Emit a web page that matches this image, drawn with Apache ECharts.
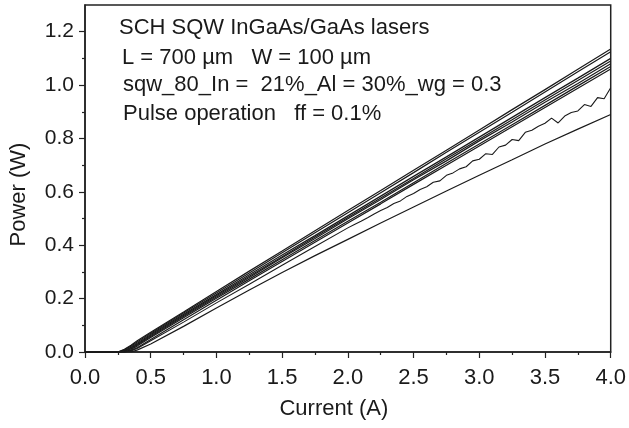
<!DOCTYPE html>
<html><head><meta charset="utf-8">
<script src="https://cdn.jsdelivr.net/npm/echarts@6/dist/echarts.min.js"></script>
<style>html,body{margin:0;padding:0;background:#fff}#c{width:629px;height:428px}</style>
</head><body><div id="c"></div>
<script>
// Current (A) sample points for the smooth curves
const current = [0, 0.2, 0.25, 0.3, 0.35, 0.4, 0.5, 0.75, 1.0, 1.25, 1.5, 1.75, 2.0, 2.25, 2.5, 2.75, 3.0, 3.25, 3.5, 3.75, 4.0];
// Power (W) for each laser
const laser1 = [0, 0, 0, 0.010, 0.025, 0.043, 0.074, 0.150, 0.227, 0.303, 0.378, 0.454, 0.530, 0.605, 0.681, 0.756, 0.832, 0.908, 0.983, 1.059, 1.135];
const laser2 = [0, 0, 0, 0.008, 0.022, 0.038, 0.070, 0.146, 0.221, 0.296, 0.372, 0.447, 0.522, 0.597, 0.672, 0.748, 0.823, 0.898, 0.974, 1.050, 1.125];
const laser3 = [0, 0, 0, 0.005, 0.018, 0.034, 0.066, 0.141, 0.215, 0.289, 0.363, 0.436, 0.510, 0.584, 0.658, 0.731, 0.805, 0.879, 0.953, 1.026, 1.100];
const laser4 = [0, 0, 0, 0.003, 0.015, 0.030, 0.062, 0.137, 0.211, 0.284, 0.357, 0.431, 0.504, 0.577, 0.650, 0.724, 0.797, 0.870, 0.944, 1.017, 1.090];
const laser5 = [0, 0, 0, 0.002, 0.012, 0.027, 0.058, 0.133, 0.206, 0.279, 0.353, 0.425, 0.499, 0.571, 0.645, 0.716, 0.791, 0.862, 0.936, 1.006, 1.080];
const laser6 = [0, 0, 0, 0, 0.009, 0.023, 0.054, 0.128, 0.201, 0.273, 0.346, 0.418, 0.490, 0.561, 0.634, 0.707, 0.779, 0.851, 0.924, 0.997, 1.070];
const laser7 = [0, 0, 0, 0, 0.006, 0.017, 0.047, 0.121, 0.194, 0.267, 0.339, 0.411, 0.483, 0.555, 0.628, 0.700, 0.772, 0.844, 0.916, 0.988, 1.060];
const laser9 = [0, 0, 0, 0, 0, 0.008, 0.030, 0.096, 0.165, 0.232, 0.298, 0.361, 0.422, 0.483, 0.543, 0.603, 0.662, 0.720, 0.779, 0.835, 0.890];
// Noisy curve (laser 8)
const currentNoisy = [0, 0.3, 0.35, 0.4, 0.5, 0.75, 1.0, 1.25, 1.5, 1.75,
  2.0, 2.05, 2.1, 2.15, 2.2, 2.25, 2.3, 2.35, 2.4, 2.45, 2.5, 2.55, 2.6, 2.65, 2.7, 2.75, 2.8, 2.85, 2.9, 2.95,
  3.0, 3.05, 3.1, 3.15, 3.2, 3.25, 3.3, 3.35, 3.4, 3.45, 3.5, 3.55, 3.6, 3.65, 3.7, 3.75, 3.8, 3.85, 3.9, 3.95, 4.0];
const laser8 = [0, 0, 0.004, 0.014, 0.042, 0.112, 0.184, 0.254, 0.325, 0.395,
  0.465, 0.478, 0.490, 0.503, 0.517, 0.530, 0.541, 0.556, 0.566, 0.583, 0.594, 0.609, 0.619, 0.636, 0.641, 0.662, 0.671, 0.686, 0.694, 0.716,
  0.722, 0.743, 0.740, 0.768, 0.775, 0.796, 0.792, 0.823, 0.831, 0.846, 0.857, 0.876, 0.858, 0.884, 0.897, 0.903, 0.927, 0.920, 0.953, 0.949, 0.990];

const powerTicks = [0, 0.2, 0.4, 0.6, 0.8, 1.0, 1.2];
const powerMinorTicks = [0.1, 0.3, 0.5, 0.7, 0.9, 1.1];
const currentTicks = [0, 0.5, 1.0, 1.5, 2.0, 2.5, 3.0, 3.5, 4.0];

const annotation = [
  'SCH SQW InGaAs/GaAs lasers',
  'L = 700 µm   W = 100 µm',
  'sqw_80_In =  21%_Al = 30%_wg = 0.3',
  'Pulse operation   ff = 0.1%'
];

const FONT = 'Liberation Sans, Arial, Helvetica, sans-serif';
const zip = (xs, ys) => xs.map((x, i) => [x, ys[i]]);
const smooth = [laser1, laser2, laser3, laser4, laser5, laser6, laser7, laser9];
const series = smooth.map(d => ({
  type: 'line', data: zip(current, d), showSymbol: false, animation: false,
  lineStyle: { color: '#1a1a1a', width: 1.2 }
}));
series.push({
  type: 'line', data: zip(currentNoisy, laser8), showSymbol: false, animation: false,
  lineStyle: { color: '#1a1a1a', width: 1.1 }
});

const annoPos = [[119, 28], [122, 57.5], [123, 85], [123, 114]];

const chart = echarts.init(document.getElementById('c'), null, { renderer: 'canvas' });
chart.setOption({
  backgroundColor: '#fff',
  animation: false,
  grid: { left: 81, right: 15, top: 5, bottom: 76, show: true, borderColor: '#222', borderWidth: 1.5, backgroundColor: 'transparent' },
  xAxis: {
    type: 'value', min: 0, max: 4.0, interval: 0.5,
    name: 'Current (A)', nameLocation: 'middle', nameGap: 46,
    nameTextStyle: { fontFamily: FONT, fontSize: 22, color: '#1a1a1a', padding: [0, 28, 0, 0] },
    axisLine: { show: true, onZero: false, lineStyle: { color: '#222', width: 1.5 } },
    axisTick: { show: true, inside: false, length: 6, lineStyle: { color: '#222', width: 1.2 }, customValues: currentTicks },
    minorTick: { show: true, splitNumber: 2, length: 3, lineStyle: { color: '#222', width: 1.2 } },
    axisLabel: { fontFamily: FONT, fontSize: 22, color: '#1a1a1a', margin: 15, customValues: currentTicks, formatter: v => v.toFixed(1) },
    splitLine: { show: false }
  },
  yAxis: [{
    type: 'value', min: 0, max: 1.3,
    name: 'Power (W)', nameLocation: 'middle', nameGap: 55,
    nameTextStyle: { fontFamily: FONT, fontSize: 22, color: '#1a1a1a', padding: [0, 32, 0, 0] },
    axisLine: { show: true, onZero: false, lineStyle: { color: '#222', width: 1.5 } },
    axisTick: { show: true, inside: false, length: 6, lineStyle: { color: '#222', width: 1.2 }, customValues: powerTicks },
    axisLabel: { fontFamily: FONT, fontSize: 21, color: '#1a1a1a', margin: 11, customValues: powerTicks, formatter: v => v.toFixed(1) },
    splitLine: { show: false }
  }, {
    type: 'value', min: 0, max: 1.3, position: 'left',
    axisLine: { show: false },
    axisTick: { show: true, inside: false, length: 3, lineStyle: { color: '#222', width: 1.2 }, customValues: powerMinorTicks },
    axisLabel: { show: false },
    splitLine: { show: false }
  }],
  graphic: annotation.map((t, i) => ({
    type: 'text', x: annoPos[i][0], y: annoPos[i][1], silent: true,
    style: { text: t, font: '22px ' + FONT, fill: '#1a1a1a', verticalAlign: 'middle', align: 'left' }
  })),
  series: series
});
</script></body></html>
